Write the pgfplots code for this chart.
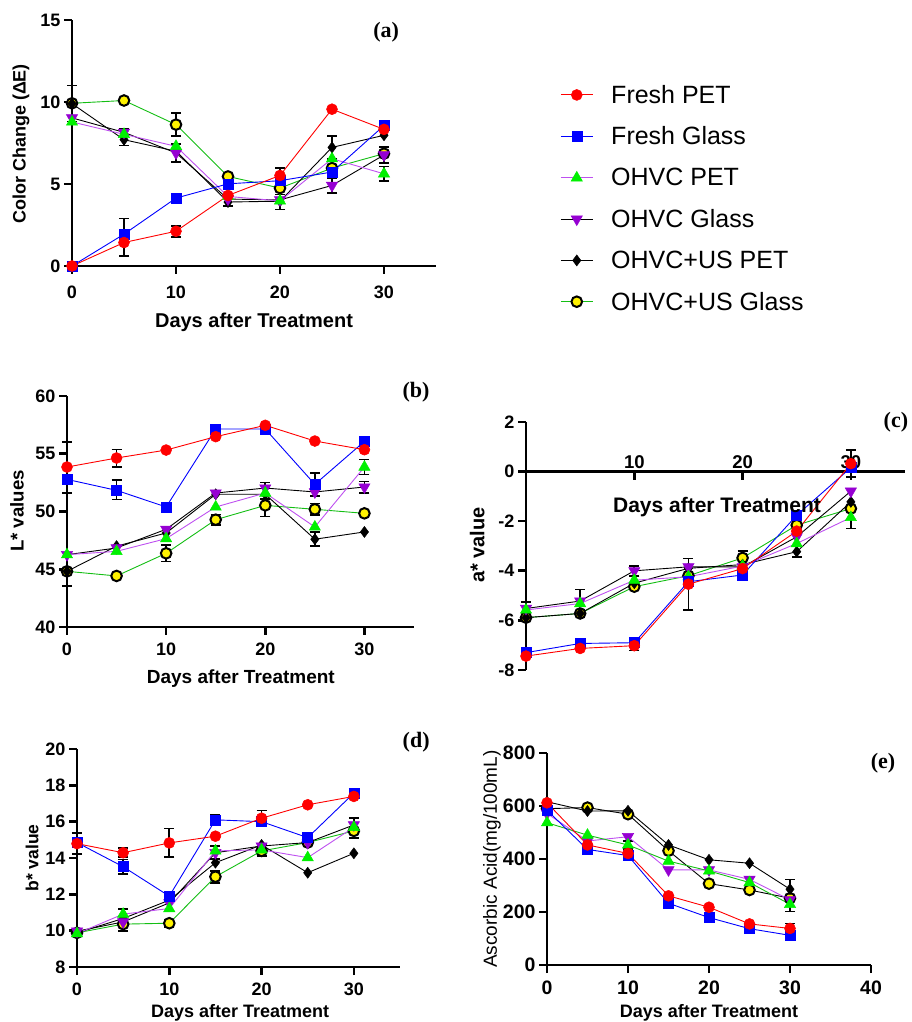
\documentclass[border=0pt]{standalone}
\usepackage{fontspec}
\setmainfont{Liberation Sans}
\newfontfamily\tnr{Liberation Serif}
\usepackage{pgfplots}
\pgfplotsset{compat=1.18}

\definecolor{cFP}{RGB}{255,0,0}
\definecolor{cFG}{RGB}{0,0,255}
\definecolor{cOP}{RGB}{0,240,0}
\definecolor{cOPl}{RGB}{190,80,240}
\definecolor{cOG}{RGB}{150,0,210}
\definecolor{cUGl}{RGB}{20,190,20}

\tikzset{ttl/.style={font=\tnr\bfseries\fontsize{22}{22}\selectfont}}
\pgfplotsset{
  every axis/.append style={
    scale only axis, clip=false, enlargelimits=false,
    axis x line*=bottom, axis y line*=left,
    axis line style={line width=2.8pt, black},
    tick style={line width=2.6pt, black},
    major tick length=8pt, tick align=outside,
    ticklabel style={font=\bfseries\fontsize{18}{18}\selectfont},
    xticklabel style={yshift=-4pt},
    /pgf/number format/assume math mode=true,
    /pgf/number format/1000 sep={},
    xlabel style={anchor=center},
    ylabel style={anchor=center},
  },
  sFP/.style={draw=cFP, line width=0.9pt, mark=*, mark size=5.5pt, mark options={solid, fill=cFP, draw=cFP, line width=0.5pt}},
  sFG/.style={draw=cFG, line width=0.9pt, mark=square*, mark size=5pt, mark options={solid, fill=cFG, draw=cFG, line width=0.5pt}},
  sOP/.style={draw=cOPl, line width=0.9pt, mark=triangle*, mark size=6.5pt, mark options={solid, fill=cOP, draw=cOP, line width=0.5pt}},
  sOG/.style={draw=black, line width=0.9pt, mark=triangle*, mark size=6.5pt, mark options={solid, rotate=180, fill=cOG, draw=cOG, line width=0.5pt}},
  sUP/.style={draw=black, line width=0.9pt, mark=diamond*, mark size=5.5pt, mark options={solid, fill=black, draw=black, line width=0.5pt}},
  sUG/.style={draw=cUGl, line width=0.9pt, mark=*, mark size=5.3pt, mark options={solid, fill=yellow, draw=black, line width=2pt}},
  errb/.style={forget plot, only marks, mark=none,
    /pgfplots/error bars/y dir=both, /pgfplots/error bars/y explicit,
    /pgfplots/error bars/error bar style={black, line width=1.6pt},
    /pgfplots/error bars/error mark options={black, rotate=90, mark size=5pt, line width=1.6pt}},
}

\begin{document}
\begin{tikzpicture}[x=1pt,y=1pt]
\useasboundingbox (0,0) rectangle (911,1022);

% ---------------- (a)
\begin{axis}[at={(72pt,756pt)}, anchor=south west, width=364pt, height=246pt,
  xmin=0, xmax=35, ymin=0, ymax=15, xtick={0,10,20,30}, ytick={0,5,10,15},
  xticklabel style={yshift=-4pt},
  xlabel={Days after Treatment}, ylabel={Color Change (ΔE)},
  xlabel style={at={(axis description cs:0.5,-0.228)}, font=\bfseries\fontsize{20}{20}\selectfont},
  ylabel style={at={(axis description cs:-0.140,0.496)}, font=\bfseries\fontsize{18}{18}\selectfont},
  legend image code/.code={\draw[mark repeat=2, mark phase=2] plot coordinates {(0pt,0pt) (16pt,0pt) (32pt,0pt)};},
  legend style={at={(axis description cs:1.341,0.736)}, anchor=north west, draw=none, fill=none,
    font=\fontsize{25}{29}\selectfont, row sep=22pt, column sep=18pt, inner sep=0pt, nodes={inner sep=0pt}},
  legend cell align=left, reverse legend]
\addplot[errb] coordinates {(0,9.9) +- (0,1.1) (5,1.75) +- (0,1.15) (5,7.85) +- (0,0.5) (10,8.62) +- (0,0.7) (10,6.9) +- (0,0.55) (10,2.1) +- (0,0.35) (15,4.0) +- (0,0.35) (20,5.53) +- (0,0.45) (20,3.9) +- (0,0.45) (25,7.23) +- (0,0.7) (25,4.91) +- (0,0.45) (30,8.56) +- (0,0.3) (30,6.77) +- (0,0.5) (30,5.62) +- (0,0.45)};
\addplot[sUG] coordinates {(0,9.92)(5,10.09)(10,8.62)(15,5.46)(20,4.75)(25,5.97)(30,6.85)};
\addlegendentry{OHVC+US Glass}
\addplot[sUP] coordinates {(0,9.9)(5,7.7)(10,7.0)(15,3.9)(20,3.95)(25,7.23)(30,7.97)};
\addlegendentry{OHVC+US PET}
\addplot[sOG] coordinates {(0,9.03)(5,8.15)(10,6.89)(15,4.08)(20,4.03)(25,4.91)(30,6.77)};
\addlegendentry{OHVC Glass}
\addplot[sOP] coordinates {(0,8.78)(5,8.03)(10,7.3)(15,4.24)(20,3.97)(25,6.54)(30,5.62)};
\addlegendentry{OHVC PET}
\addplot[sFG] coordinates {(0,0)(5,1.94)(10,4.14)(15,5.01)(20,5.2)(25,5.73)(30,8.56)};
\addlegendentry{Fresh Glass}
\addplot[sFP] coordinates {(0,0)(5,1.43)(10,2.12)(15,4.3)(20,5.52)(25,9.56)(30,8.33)};
\addlegendentry{Fresh PET}
\node[ttl] at (axis description cs:0.863,0.951) {(a)};
\end{axis}

% ---------------- (b)
\begin{axis}[at={(67pt,395pt)}, anchor=south west, width=347pt, height=231pt,
  xmin=0, xmax=35, ymin=40, ymax=60, xtick={0,10,20,30}, ytick={40,45,50,55,60},
  xlabel={Days after Treatment}, ylabel={L* values},
  xlabel style={at={(axis description cs:0.501,-0.225)}, font=\bfseries\fontsize{19}{19}\selectfont},
  ylabel style={at={(axis description cs:-0.144,0.502)}, font=\bfseries\fontsize{18.6}{18.6}\selectfont}]
\addplot[errb] coordinates {(0,53.8) +- (0,2.2) (0,44.82) +- (0,1.25) (5,54.6) +- (0,0.77) (5,51.9) +- (0,0.85) (10,46.38) +- (0,0.7) (15,49.3) +- (0,0.45) (20,51.8) +- (0,0.7) (20,50.53) +- (0,0.95) (25,52.35) +- (0,1.0) (25,50.2) +- (0,0.5) (25,47.6) +- (0,0.6) (30,53.85) +- (0,0.65) (30,52.1) +- (0,0.5)};
\addplot[sUG] coordinates {(0,44.82)(5,44.42)(10,46.38)(15,49.29)(20,50.53)(25,50.19)(30,49.84)};
\addplot[sUP] coordinates {(0,44.82)(5,47.0)(10,48.14)(15,51.49)(20,51.49)(25,47.6)(30,48.23)};
\addplot[sOG] coordinates {(0,46.26)(5,46.84)(10,48.46)(15,51.6)(20,52.03)(25,51.69)(30,52.12)};
\addplot[sOP] coordinates {(0,46.26)(5,46.55)(10,47.65)(15,50.39)(20,51.6)(25,48.66)(30,53.85)};
\addplot[sFG] coordinates {(0,52.78)(5,51.83)(10,50.39)(15,57.14)(20,57.14)(25,52.35)(30,56.07)};
\addplot[sFP] coordinates {(0,53.85)(5,54.63)(10,55.32)(15,56.48)(20,57.46)(25,56.1)(30,55.35)};
\node[ttl] at (axis description cs:1.006,1.017) {(b)};
\end{axis}

% ---------------- (c)
\begin{axis}[at={(526pt,352pt)}, anchor=south west, width=379pt, height=248pt,
  axis x line*=middle, axis y line*=left,
  xmin=0, xmax=35, ymin=-8, ymax=2, xtick={10,20,30}, ytick={-8,-6,-4,-2,0,2},
  xticklabels={}, 
  xlabel={Days after Treatment}, ylabel={a* value},
  xlabel style={at={(axis description cs:0.504,0.655)}, font=\bfseries\fontsize{21}{21}\selectfont},
  ylabel style={at={(axis description cs:-0.129,0.504)}, font=\bfseries\fontsize{20}{20}\selectfont}]
\addplot[errb] coordinates {(0,-5.55) +- (0,0.3) (5,-5.3) +- (0,0.55) (10,-4.0) +- (0,0.2) (10,-7.02) +- (0,0.2) (15,-4.54) +- (0,1.04) (20,-3.48) +- (0,0.27) (25,-3.23) +- (0,0.22) (30,0.32) +- (0,0.55) (30,-1.83) +- (0,0.47)};
\addplot[sUG] coordinates {(0,-5.89)(5,-5.72)(10,-4.64)(15,-4.2)(20,-3.48)(25,-2.16)(30,-1.49)};
\addplot[sUP] coordinates {(0,-5.89)(5,-5.72)(10,-4.5)(15,-3.9)(20,-3.75)(25,-3.23)(30,-1.22)};
\addplot[sOG] coordinates {(0,-5.52)(5,-5.22)(10,-4.0)(15,-3.84)(20,-3.84)(25,-2.63)(30,-0.79)};
\addplot[sOP] coordinates {(0,-5.58)(5,-5.32)(10,-4.38)(15,-4.24)(20,-3.81)(25,-2.9)(30,-1.85)};
\addplot[sFG] coordinates {(0,-7.3)(5,-6.93)(10,-6.9)(15,-4.44)(20,-4.17)(25,-1.76)(30,0.16)};
\addplot[sFP] coordinates {(0,-7.44)(5,-7.13)(10,-7.02)(15,-4.54)(20,-3.91)(25,-2.4)(30,0.32)};
\node[anchor=south, inner sep=0pt, yshift=2.5pt, font=\bfseries\fontsize{18.5}{18.5}\selectfont] at (axis cs:10,0) {10};
\node[anchor=south, inner sep=0pt, yshift=2.5pt, font=\bfseries\fontsize{18.5}{18.5}\selectfont] at (axis cs:20,0) {20};
\node[anchor=south, inner sep=0pt, yshift=2.5pt, font=\bfseries\fontsize{18.5}{18.5}\selectfont] at (axis cs:30,0) {30};
\node[ttl] at (axis description cs:0.976,1.0) {(c)};
\end{axis}

% ---------------- (d)
\begin{axis}[at={(77pt,55pt)}, anchor=south west, width=323pt, height=218pt,
  xmin=0, xmax=35, ymin=8, ymax=20, xtick={0,10,20,30}, ytick={8,10,12,14,16,18,20},
  xlabel={Days after Treatment}, ylabel={b* value},
  xlabel style={at={(axis description cs:0.505,-0.211)}, font=\bfseries\fontsize{18}{18}\selectfont},
  ylabel style={at={(axis description cs:-0.139,0.5)}, font=\bfseries\fontsize{17.5}{17.5}\selectfont}]
\addplot[errb] coordinates {(0,14.79) +- (0,0.57) (5,14.3) +- (0,0.25) (5,13.52) +- (0,0.4) (5,10.58) +- (0,0.6) (10,14.85) +- (0,0.78) (10,10.41) +- (0,0.2) (15,16.1) +- (0,0.3) (15,14.3) +- (0,0.35) (15,12.95) +- (0,0.33) (20,16.19) +- (0,0.43) (20,14.4) +- (0,0.3) (30,17.57) +- (0,0.25) (30,15.65) +- (0,0.55)};
\addplot[sUG] coordinates {(0,9.88)(5,10.36)(10,10.41)(15,12.97)(20,14.39)(25,14.85)(30,15.49)};
\addplot[sUP] coordinates {(0,9.88)(5,10.67)(10,11.68)(15,13.74)(20,14.72)(25,13.19)(30,14.26)};
\addplot[sOG] coordinates {(0,9.97)(5,10.48)(10,11.53)(15,14.29)(20,14.66)(25,14.85)(30,15.82)};
\addplot[sOP] coordinates {(0,9.84)(5,10.91)(10,11.22)(15,14.39)(20,14.45)(25,14.02)(30,15.69)};
\addplot[sFG] coordinates {(0,14.85)(5,13.52)(10,11.9)(15,16.1)(20,16.0)(25,15.12)(30,17.57)};
\addplot[sFP] coordinates {(0,14.79)(5,14.29)(10,14.83)(15,15.2)(20,16.19)(25,16.93)(30,17.39)};
\node[ttl] at (axis description cs:1.05,1.032) {(d)};
\end{axis}

% ---------------- (e)
\begin{axis}[at={(547pt,57pt)}, anchor=south west, width=324pt, height=212pt,
  xmin=0, xmax=40, ymin=0, ymax=800, xtick={0,10,20,30,40}, ytick={0,200,400,600,800},
  ticklabel style={font=\bfseries\fontsize{19.5}{19.5}\selectfont},
  xlabel={Days after Treatment}, ylabel={Ascorbic Acid(mg/100mL)},
  xlabel style={at={(axis description cs:0.5,-0.226)}, font=\bfseries\fontsize{18}{18}\selectfont},
  ylabel style={at={(axis description cs:-0.170,0.5)}, font=\fontsize{19}{19}\selectfont}]
\addplot[errb] coordinates {(10,453) +- (0,15) (30,262) +- (0,60) (30,138) +- (0,18)};
\addplot[sUG, draw=black] coordinates {(0,590)(5,594)(10,569)(15,431)(20,307)(25,283)(30,252)};
\addplot[sUP] coordinates {(0,616)(5,581)(10,582)(15,453)(20,397)(25,384)(30,286)};
\addplot[sOG, draw=cOPl] coordinates {(0,572)(5,468)(10,484)(15,359)(20,359)(25,323)(30,246)};
\addplot[sOP, draw=cUGl] coordinates {(0,537)(5,490)(10,453)(15,392)(20,355)(25,311)(30,229)};
\addplot[sFG] coordinates {(0,584)(5,436)(10,413)(15,233)(20,179)(25,137)(30,112)};
\addplot[sFP] coordinates {(0,612)(5,453)(10,421)(15,261)(20,218)(25,155)(30,138)};
\node[ttl] at (axis description cs:1.037,0.953) {(e)};
\end{axis}
\end{tikzpicture}
\end{document}
